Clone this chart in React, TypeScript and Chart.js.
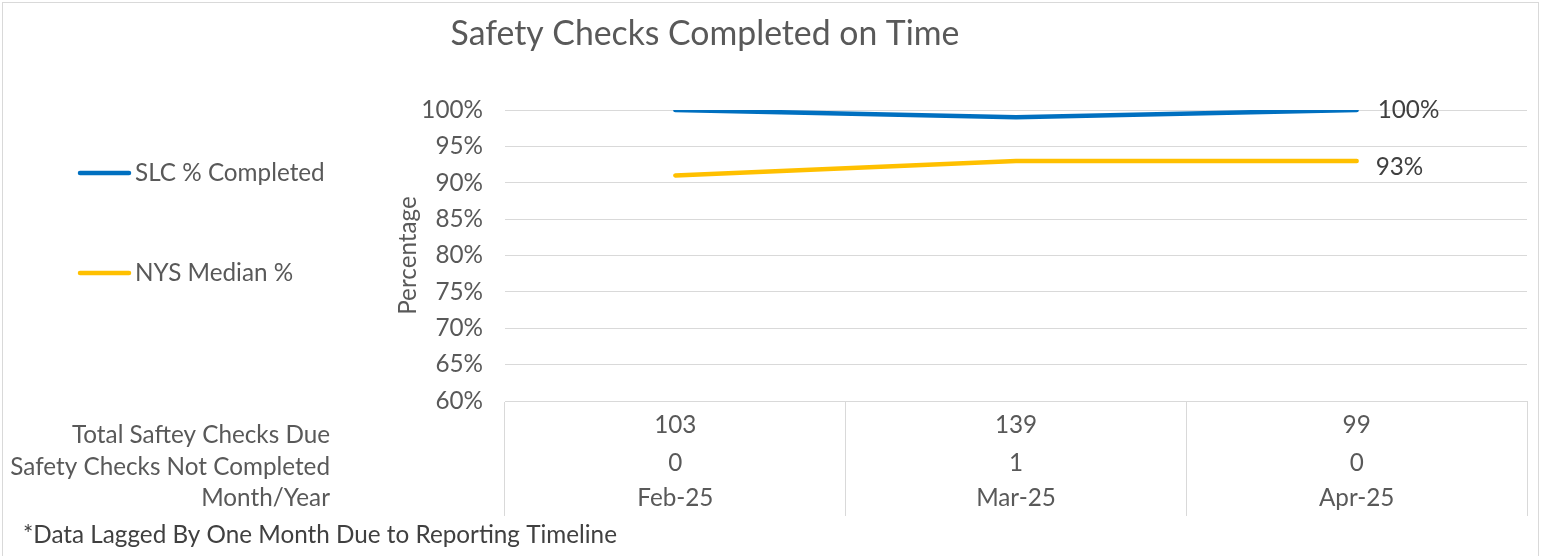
import React, { useEffect, useRef } from 'react';
import { Chart, registerables } from 'chart.js';

Chart.register(...registerables);

// ---- data ----
const months: string[] = ['Feb-25', 'Mar-25', 'Apr-25'];
const slcCompleted: number[] = [100, 99, 100];
const nysMedian: number[] = [91, 93, 93];
const totalDue: number[] = [103, 139, 99];
const notCompleted: number[] = [0, 1, 0];
const seriesNames: string[] = ['SLC % Completed', 'NYS Median %'];
const rowLabels: string[] = ['Total Saftey Checks Due', 'Safety Checks Not Completed', 'Month/Year'];
const chartTitle = 'Safety Checks Completed on Time';
const yAxisTitle = 'Percentage';
const footnote = '*Data Lagged By One Month Due to Reporting Timeline';
const yMin = 60;
const yMax = 100;
const yStep = 5;

// ---- styles ----
const FAMILY = 'Lato, "Noto Sans", sans-serif';
const TEXT = '#595959';
const DARK = '#404040';
const GRID = '#d9d9d9';
const BLUE = '#0070C0';
const YELLOW = '#FFC000';

function fitSize(text: string, target: number): number {
  const c = document.createElement('canvas').getContext('2d')!;
  c.font = `100px ${FAMILY}`;
  return (100 * target) / c.measureText(text).width;
}

export default function App() {
  const ref = useRef<HTMLCanvasElement | null>(null);

  useEffect(() => {
    document.body.style.margin = '0';
    const base = (fitSize(rowLabels[0], 257) + fitSize(footnote, 597)) / 2;
    const titleSize = fitSize(chartTitle, 509);

    const overlay = {
      id: 'overlay',
      afterDraw(chart: any) {
        const ctx = chart.ctx as CanvasRenderingContext2D;
        const area = chart.chartArea;
        const xs = chart.scales.x;
        ctx.save();
        // outer border
        ctx.strokeStyle = GRID;
        ctx.lineWidth = 1;
        ctx.strokeRect(2.5, 2.5, 1536, 600);

        // title
        ctx.fillStyle = TEXT;
        ctx.font = `${titleSize}px ${FAMILY}`;
        ctx.textAlign = 'center';
        ctx.textBaseline = 'alphabetic';
        ctx.fillText(chartTitle, 705, 45);

        // legend
        const legendColors = [BLUE, YELLOW];
        const legendY = [173, 273];
        ctx.font = `${base}px ${FAMILY}`;
        seriesNames.forEach((name, i) => {
          ctx.strokeStyle = legendColors[i];
          ctx.lineWidth = 4.5;
          ctx.lineCap = 'round';
          ctx.beginPath();
          ctx.moveTo(80, legendY[i]);
          ctx.lineTo(129, legendY[i]);
          ctx.stroke();
          ctx.fillStyle = TEXT;
          ctx.textAlign = 'left';
          ctx.textBaseline = 'middle';
          ctx.fillText(name, 135, legendY[i]);
        });

        // data table
        const rows = [totalDue.map(String), notCompleted.map(String), months];
        const rowValueOffsets = [24, 62, 97];
        const rowLabelOffsets = [34, 66, 97];
        ctx.fillStyle = TEXT;
        ctx.font = `${base}px ${FAMILY}`;
        rows.forEach((row, r) => {
          ctx.textAlign = 'center';
          ctx.textBaseline = 'middle';
          row.forEach((v, i) => {
            ctx.fillText(v, xs.getPixelForValue(i), area.bottom + rowValueOffsets[r]);
          });
          ctx.textAlign = 'right';
          ctx.fillText(rowLabels[r], 330, area.bottom + rowLabelOffsets[r]);
        });

        // data labels on last point
        ctx.fillStyle = DARK;
        ctx.textAlign = 'left';
        ctx.textBaseline = 'middle';
        const labelOffsets = [[21, 0], [19, 6]];
        chart.data.datasets.forEach((ds: any, d: number) => {
          const meta = chart.getDatasetMeta(d);
          const last = meta.data.length - 1;
          const pt = meta.data[last];
          ctx.fillText(`${ds.data[last]}%`, pt.x + labelOffsets[d][0], pt.y + labelOffsets[d][1]);
        });

        // footnote
        ctx.fillStyle = DARK;
        ctx.textAlign = 'left';
        ctx.fillText(footnote, 23, 535);
        ctx.restore();
      },
    };

    const chart = new Chart(ref.current!, {
      type: 'line',
      data: {
        labels: months,
        datasets: [
          {
            label: seriesNames[0],
            data: slcCompleted,
            borderColor: BLUE,
            backgroundColor: BLUE,
            borderWidth: 4.5,
            borderCapStyle: 'round',
            borderJoinStyle: 'round',
            pointRadius: 0,
            tension: 0,
          },
          {
            label: seriesNames[1],
            data: nysMedian,
            borderColor: YELLOW,
            backgroundColor: YELLOW,
            borderWidth: 4.5,
            borderCapStyle: 'round',
            borderJoinStyle: 'round',
            pointRadius: 0,
            tension: 0,
          },
        ],
      },
      options: {
        responsive: false,
        animation: false,
        devicePixelRatio: 1,
        layout: { padding: { left: 390, right: 14, top: 110, bottom: 0 } },
        plugins: {
          legend: { display: false },
          title: { display: false },
          tooltip: { enabled: false },
        },
        scales: {
          x: {
            type: 'category',
            offset: true,
            grid: {
              offset: true,
              drawOnChartArea: false,
              drawTicks: true,
              tickLength: 115,
              color: GRID,
              lineWidth: 1,
            },
            border: { display: true, color: GRID },
            ticks: { display: false },
            afterFit: (s: any) => {
              s.height = 155;
            },
          },
          y: {
            min: yMin,
            max: yMax,
            grid: { color: GRID, drawTicks: false, lineWidth: 1 },
            border: { display: false },
            ticks: {
              stepSize: yStep,
              padding: 22,
              color: TEXT,
              font: { family: FAMILY, size: base },
              callback: (v: any) => `${v}%`,
            },
            title: {
              display: true,
              text: yAxisTitle,
              color: TEXT,
              font: { family: FAMILY, size: base },
              padding: { top: 4, bottom: 4 },
            },
            afterFit: (s: any) => {
              s.width = 115;
            },
          },
        },
      },
      plugins: [overlay],
    } as any);

    return () => chart.destroy();
  }, []);

  return (
    <div style={{ width: 1541, height: 556 }}>
      <canvas ref={ref} width={1541} height={556} style={{ display: 'block' }} />
    </div>
  );
}
